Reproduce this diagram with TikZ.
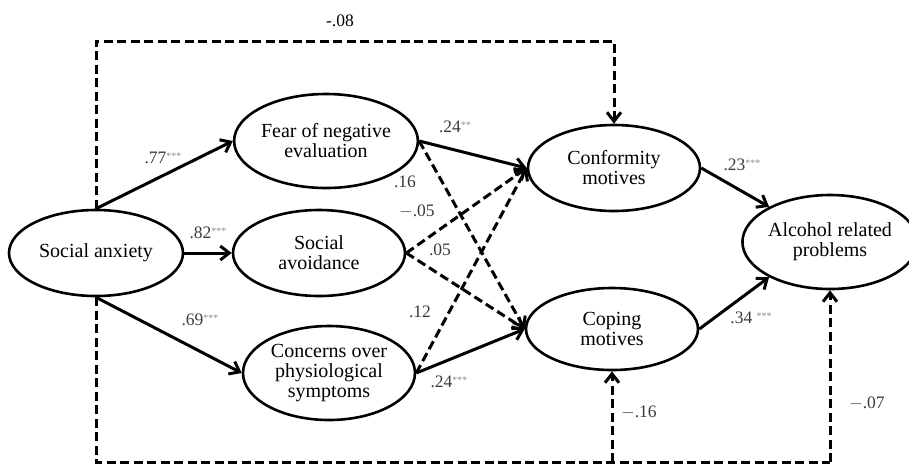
\documentclass[tikz,border=0pt]{standalone}
\usepackage{fontspec}
\setmainfont{Liberation Serif}
\usetikzlibrary{arrows.meta,shapes.geometric}
\definecolor{labgray}{HTML}{3A3A3A}
\definecolor{stargray}{HTML}{8A8A8A}
\newcommand{\stars}[1]{\raisebox{0.55ex}{\fontsize{10}{10}\selectfont\color{stargray}#1}}
\begin{document}
\begin{tikzpicture}[x=1pt,y=-1pt,
  latent/.style={draw, line width=2.6pt, ellipse, inner sep=0pt, align=center,
    font=\fontsize{20}{20}\selectfont},
  path/.style={line width=3pt, -{Straight Barb[length=9pt,width=14pt,line width=3pt]}},
  npath/.style={path, dash pattern=on 9pt off 4.5pt},
  route/.style={line width=3pt, dash pattern=on 9pt off 4.5pt},
  coef/.style={font=\fontsize{17.5}{18}\selectfont, text=labgray, inner sep=1pt}]
\useasboundingbox (0,0) rectangle (909,467);

\node[latent, minimum width=174pt, minimum height=86pt] (sa) at (96,253) {Social anxiety};
\node[latent, minimum width=172pt, minimum height=94pt] (fne) at (326,141) {Fear of negative\\evaluation};
\node[latent, minimum width=172pt, minimum height=86pt] (sav) at (319,253) {Social\\avoidance};
\node[latent, minimum width=172pt, minimum height=94pt] (cps) at (329,373) {Concerns over\\physiological\\symptoms};
\node[latent, minimum width=172pt, minimum height=86pt] (conf) at (614,168) {Conformity\\motives};
\node[latent, minimum width=172pt, minimum height=82pt] (cop) at (612,329) {Coping\\motives};
\node[latent, minimum width=162pt, minimum height=94pt] (alc) at (830,242) {Alcohol related\\problems};

\coordinate (topy) at (0,41);
\coordinate (boty) at (0,462);

% solid paths
\draw[path] (sa.north) -- (fne.west);
\draw[path] (sa.east) -- (sav.west);
\draw[path] (sa.south) -- (cps.west);
\draw[path] (fne.east) -- (conf.west);
\draw[path] (cps.east) -- (cop.west);
\draw[path] (conf.east) -- (alc.150);
\draw[path] (cop.east) -- (alc.210);

% non-significant paths
\draw[npath] (fne.east) -- (cop.west);
\draw[npath] (sav.east) -- (conf.west);
\draw[npath] (sav.east) -- (cop.west);
\draw[npath] (cps.east) -- (conf.west);

% direct effects
\draw[npath] (sa.north) -- (sa.north |- topy) -| (conf.north);
\draw[route] (sa.south) -- (sa.south |- boty) -- (alc.south |- boty);
\draw[npath] (cop.south |- boty) -- (cop.south);
\draw[npath] (alc.south |- boty) -- (alc.south);

% coefficients
\node[coef] (c1) at (163,158) {.77\stars{***}};
\node[coef] (c2) at (208,233) {.82\stars{***}};
\node[coef] (c3) at (200,320) {.69\stars{***}};
\node[coef] (c4) at (455,127) {.24\stars{**}};
\node[coef] (c5) at (405,182) {.16};
\node[coef] (c6) at (417,211) {$-$.05};
\node[coef] (c7) at (440,250) {.05};
\node[coef] (c8) at (420,312) {.12};
\node[coef] (c9) at (449,382) {.24\stars{***}};
\node[coef] (c10) at (742,165) {.23\stars{***}};
\node[coef] (c11) at (751,318) {.34 \stars{***}};
\node[coef] (c12) at (639,412) {$-$.16};
\node[coef] (c13) at (867,403) {$-$.07};
\node[coef, text=black] (c14) at (340,21) {-.08};
\end{tikzpicture}
\end{document}
